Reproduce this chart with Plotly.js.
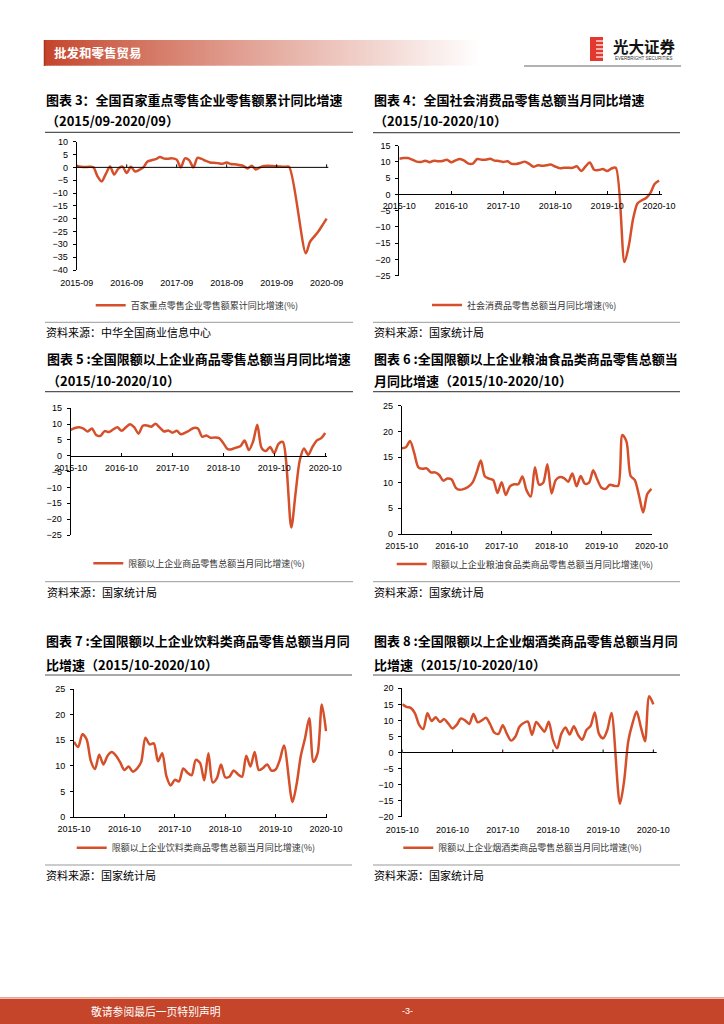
<!DOCTYPE html>
<html><head><meta charset="utf-8">
<script src="https://cdn.plot.ly/plotly-3.0.1.min.js"></script>
<style>html,body{margin:0;padding:0;background:#fff;}#page{width:724px;height:1024px;}</style>
</head><body><div id="page"></div>
<script>
// ---------- data ----------
const months9 = ['2015-09','2015-10','2015-11','2015-12','2016-01','2016-02','2016-03','2016-04','2016-05','2016-06','2016-07','2016-08',
 '2016-09','2016-10','2016-11','2016-12','2017-01','2017-02','2017-03','2017-04','2017-05','2017-06','2017-07','2017-08',
 '2017-09','2017-10','2017-11','2017-12','2018-01','2018-02','2018-03','2018-04','2018-05','2018-06','2018-07','2018-08',
 '2018-09','2018-10','2018-11','2018-12','2019-01','2019-02','2019-03','2019-04','2019-05','2019-06','2019-07','2019-08',
 '2019-09','2019-10','2019-11','2019-12','2020-01','2020-02','2020-03','2020-04','2020-05','2020-06','2020-07','2020-08','2020-09'];
const months10 = ['2015-10','2015-11','2015-12','2016-01','2016-02','2016-03','2016-04','2016-05','2016-06','2016-07','2016-08','2016-09',
 '2016-10','2016-11','2016-12','2017-01','2017-02','2017-03','2017-04','2017-05','2017-06','2017-07','2017-08','2017-09',
 '2017-10','2017-11','2017-12','2018-01','2018-02','2018-03','2018-04','2018-05','2018-06','2018-07','2018-08','2018-09',
 '2018-10','2018-11','2018-12','2019-01','2019-02','2019-03','2019-04','2019-05','2019-06','2019-07','2019-08','2019-09',
 '2019-10','2019-11','2019-12','2020-01','2020-02','2020-03','2020-04','2020-05','2020-06','2020-07','2020-08','2020-09','2020-10'];
const ticks9 = ['2015-09','2016-09','2017-09','2018-09','2019-09','2020-09'];
const ticks10 = ['2015-10','2016-10','2017-10','2018-10','2019-10','2020-10'];

const top100Cum = [0.5,0.2,0.1,0.2,0.0,-3.5,-5.5,-2.5,0.3,-2.8, -0.5,0.3,-2.2,0.2,-1.6,-1.0,0.0,2.3,2.8,3.2,
 4.0,3.4,3.4,3.5,3.0,0.0,3.5,2.8,0.0,3.7, 3.3,2.5,1.9,1.8,1.6,1.4,1.9,1.3,1.2,0.9, 0.6,-0.4,0.6,-0.8,0.0,0.5,0.6,0.5,0.4,0.3,
 0.2,0.2,null,null,null,-33.5,-29.0,-27.0,-25.0,-22.5, -20.0];
const socialRetail = [11.0,11.2,11.2,10.7,10.1,10.0,10.4,9.9,10.4,10.2, 10.3,10.7,9.9,10.5,10.9,10.4,9.5,9.5,10.9,10.7,
 10.7,11.0,10.4,10.3,10.0,10.2,9.4,9.4,9.7,10.1, 9.4,8.5,9.0,8.8,9.0,9.2,8.6,8.1,8.2,8.2, 8.2,8.7,7.2,8.6,9.8,7.6,7.5,7.8,7.2,8.0,
 8.2,null,-20.8,-15.8,-7.5,-2.8,-1.8,-1.1,0.5,3.3, 4.3];
const aboveLimitRetail = [8.2,8.8,9.0,8.6,7.7,8.6,6.6,6.3,7.8,7.5, 8.3,9.0,7.9,9.0,10.0,9.0,7.0,9.5,9.6,9.2,
 10.1,8.9,7.7,8.0,7.3,7.9,6.8,7.3,8.0,8.8, 8.6,6.0,6.4,5.7,5.8,5.6,4.0,2.1,2.1,2.6, 3.0,4.8,1.8,4.5,9.8,2.5,1.5,2.8,0.8,3.8,
 4.4,null,-22.6,-12.0,-1.5,2.3,0.3,2.8,4.8,5.5, 7.2];
const grainOilFood = [16.7,16.9,18.1,15.8,13.0,12.7,12.8,12.0,12.0,11.5, 10.4,10.8,10.6,9.0,8.6,8.8,9.2,10.0,12.0,14.3,
 11.2,10.8,10.5,8.0,10.1,7.6,9.3,9.7,9.7,11.2, 8.5,7.3,13.0,9.6,10.0,13.6,7.9,10.5,11.1,10.9, 10.2,11.8,9.3,11.3,9.8,10.0,12.4,10.6,9.0,8.8,
 9.6,9.4,9.4,19.3,18.0,11.3,10.5,7.5,4.2,7.8, 8.8];
const beverage = [14.7,13.7,16.2,15.2,11.0,9.4,12.2,10.3,12.0,12.7, 12.0,10.7,9.2,9.9,8.9,9.5,10.8,15.5,14.2,14.4,
 10.9,12.5,8.0,6.2,7.3,7.0,9.5,8.7,8.2,11.2, 10.6,7.2,12.5,6.8,7.6,10.3,7.8,7.9,9.1,8.4, 7.9,12.0,9.9,12.7,9.2,9.6,10.3,9.1,9.3,11.2,
 14.0,null,3.0,6.5,12.0,15.4,19.3,10.8,12.5,22.0, 16.8];
const tobaccoLiquor = [15.0,14.2,13.9,12.3,8.7,7.3,12.2,9.8,11.0,9.5, 10.4,9.0,7.5,8.6,10.6,10.0,8.9,12.0,9.4,10.0,
 10.8,8.8,6.2,5.8,8.5,5.8,3.7,4.9,8.0,9.2, 9.6,5.5,9.5,8.0,6.5,9.6,4.0,1.3,5.8,7.8, 5.6,8.2,5.5,4.0,7.0,8.3,12.5,5.8,4.4,7.0,
 12.3,null,-16.0,-9.0,3.5,9.0,12.8,8.0,3.5,17.5, 15.0];

const seriesNames = ['百家重点零售企业零售额累计同比增速(%)','社会消费品零售总额当月同比增速(%)','限额以上企业商品零售总额当月同比增速(%)',
 '限额以上企业粮油食品类商品零售总额当月同比增速(%)','限额以上企业饮料类商品零售总额当月同比增速(%)','限额以上企业烟酒类商品零售总额当月同比增速(%)'];
const titles = [
 ['图表 3：全国百家重点零售企业零售额累计同比增速','（2015/09-2020/09）'],
 ['图表 4：全国社会消费品零售总额当月同比增速','（2015/10-2020/10）'],
 ['图表 5 :全国限额以上企业商品零售总额当月同比增速','（2015/10-2020/10）'],
 ['图表 6 :全国限额以上企业粮油食品类商品零售总额当','月同比增速（2015/10-2020/10）'],
 ['图表 7 :全国限额以上企业饮料类商品零售总额当月同','比增速（2015/10-2020/10）'],
 ['图表 8 :全国限额以上企业烟酒类商品零售总额当月同','比增速（2015/10-2020/10）']];
const sources = ['资料来源：中华全国商业信息中心','资料来源：国家统计局','资料来源：国家统计局','资料来源：国家统计局','资料来源：国家统计局','资料来源：国家统计局'];

// ---------- layout config ----------
const W = 724, H = 1024;
const fx = p => p / W, fy = p => 1 - p / H;
const LINE = '#D5502A';
const CJK = 'Noto Sans CJK SC, Noto Sans, sans-serif';
const NUM = 'Arial, Liberation Sans, sans-serif';

const panels = [
 {cats:months9, ticks:ticks9, vals:top100Cum, px:[76.7,328.3], py:[141.7,270], yr:[-40,10], xr:[0,60.4], mode:'bottomZero', lx:130.7, ly:305.3, tx:45, ty:[99,120], sx:[45,353], sepTop:132.3, sepBot:322.3, srcY:332.3},
 {cats:months10, ticks:ticks10, vals:socialRetail, px:[399.3,661.7], py:[145.7,275.7], yr:[-25,15], xr:[0,60.6], mode:'zeroAxis', lx:467, ly:305, tx:373.3, ty:[99,120], sx:[373,680], sepTop:132.7, sepBot:322.3, srcY:332.3},
 {cats:months10, ticks:ticks10, vals:aboveLimitRetail, px:[70.7,327.3], py:[408.3,535], yr:[-25,15], xr:[0,60.5], mode:'zeroAxis', lx:128.3, ly:563.3, tx:46, ty:[358.3,380], sx:[45,353], sepTop:391.7, sepBot:581.7, srcY:592.3},
 {cats:months10, ticks:ticks10, vals:grainOilFood, px:[401.7,652.3], py:[405.7,534], yr:[0,25], xr:[0,60.2], mode:'bottom', lx:431.7, ly:564, tx:373.3, ty:[358.3,380], sx:[373,680], sepTop:391.7, sepBot:581.7, srcY:592.3},
 {cats:months10, ticks:ticks10, vals:beverage, px:[74,327.3], py:[689,817.3], yr:[0,25], xr:[0,60.3], mode:'bottom', lx:111.7, ly:847.7, tx:45, ty:[640,664], sx:[45,352], sepTop:675, sepBot:865, srcY:875},
 {cats:months10, ticks:ticks10, vals:tobaccoLiquor, px:[402.3,656.7], py:[688.3,816.7], yr:[-20,20], xr:[0,60.8], mode:'bottomZero', lx:438.3, ly:847.7, tx:373.3, ty:[640,664], sx:[373,680], sepTop:675, sepBot:865, srcY:875}
];

const traces = [];
const layout = {
  width: W, height: H, margin:{l:0,r:0,t:0,b:0}, paper_bgcolor:'#fff', plot_bgcolor:'rgba(0,0,0,0)',
  showlegend: true, shapes: [], annotations: [], hovermode:false
};
const hline = (x0,x1,y,color,w) => ({type:'line', xref:'paper', yref:'paper', x0:fx(x0), x1:fx(x1), y0:fy(y), y1:fy(y), line:{color:color, width:w}});
const note = (text,x,y,size,color,family,anchor) => ({text:text, xref:'paper', yref:'paper', x:fx(x), y:fy(y), xanchor:anchor||'left', yanchor:'middle', showarrow:false, font:{size:size, color:color, family:family}, borderpad:0});

panels.forEach((p, k) => {
  const s = k === 0 ? '' : String(k + 1);
  const xa = 'xaxis' + s, ya = 'yaxis' + s, lg = 'legend' + s;
  const yd = [fy(p.py[1]), fy(p.py[0])];
  const zeroPos = yd[0] + (0 - p.yr[0]) / (p.yr[1] - p.yr[0]) * (yd[1] - yd[0]);
  traces.push({type:'scatter', mode:'lines', x:p.cats, y:p.vals, xaxis:'x'+s, yaxis:'y'+s, name:seriesNames[k],
    legend:lg, showlegend:true, connectgaps:true, hoverinfo:'skip',
    line:{color:LINE, width:2.5, shape:'spline', smoothing:0.8}});
  const xcfg = {domain:[fx(p.px[0]), fx(p.px[1])], type:'category', categoryorder:'array', categoryarray:p.cats,
    range:p.xr, autorange:false, tickmode:'array', tickvals:p.ticks, ticktext:p.ticks,
    showgrid:false, zeroline:false, fixedrange:true, tickfont:{family:NUM, size:9, color:'#000'},
    linecolor:'#000', linewidth:1, tickcolor:'#000', ticklen:3, tickwidth:1};
  if (p.mode === 'zeroAxis') {
    Object.assign(xcfg, {anchor:'free', position:zeroPos, showline:true, ticks:'inside', ticklabelstandoff:3});
  } else if (p.mode === 'bottom') {
    Object.assign(xcfg, {anchor:'y'+s, showline:true, ticks:'inside', ticklabelstandoff:3});
  } else {
    Object.assign(xcfg, {anchor:'y'+s, showline:false, ticks:'', ticklabelstandoff:6});
    layout.shapes.push({type:'line', xref:'x'+s+' domain', yref:'y'+s, x0:0, x1:1, y0:0, y1:0, line:{color:'#000', width:1}});
    p.ticks.forEach(t => layout.shapes.push({type:'line', xref:'x'+s, yref:'y'+s, x0:t, x1:t, ysizemode:'pixel', yanchor:0, y0:0, y1:3, line:{color:'#000', width:1}}));
  }
  layout[xa] = xcfg;
  layout[ya] = {domain:yd, anchor:'x'+s, range:p.yr, autorange:false, tick0:0, dtick:5, showline:true, linecolor:'#000', linewidth:1,
    ticks:'outside', ticklen:3, tickcolor:'#000', showgrid:false, zeroline:false, fixedrange:true,
    tickfont:{family:NUM, size:9, color:'#000'}, ticklabelstandoff:3};
  layout[lg] = {x:fx(p.lx - 40), y:fy(p.ly), xanchor:'left', yanchor:'middle', bgcolor:'rgba(0,0,0,0)', borderwidth:0,
    font:{family:CJK, size:9, color:'#333'}, itemwidth:30};
  // titles, separators, source
  layout.annotations.push(note('<b>' + titles[k][0] + '</b>', p.tx, p.ty[0], 13, '#000', CJK));
  layout.annotations.push(note('<b>' + titles[k][1] + '</b>', p.tx, p.ty[1], 13, '#000', CJK));
  layout.shapes.push(hline(p.sx[0], p.sx[1], p.sepTop, '#555', 1.2));
  layout.shapes.push(hline(p.sx[0], p.sx[1], p.sepBot, '#999', 1));
  layout.annotations.push(note(sources[k], p.tx, p.srcY, 11, '#000', CJK));
});

// ---------- page header ----------
const g0 = [196, 68, 42], gx0 = 44, gx1 = 480, step = 3;
for (let x = gx0; x < gx1; x += step) {
  const t = (x - gx0) / (gx1 - gx0);
  const c = g0.map(v => Math.round(v + (255 - v) * Math.pow(t, 0.9)));
  layout.shapes.push({type:'rect', xref:'paper', yref:'paper', x0:fx(x), x1:fx(x + step + 0.5), y0:fy(65.7), y1:fy(40),
    fillcolor:'rgb(' + c.join(',') + ')', line:{width:0}, layer:'below'});
}
layout.shapes.push({type:'line', xref:'paper', yref:'paper', x0:fx(44.5), x1:fx(44.5), y0:fy(40), y1:fy(66), line:{color:'#A8361F', width:1.5}});
layout.annotations.push(note('<b>批发和零售贸易</b>', 53, 52.7, 12.5, '#fff', CJK));
// logo
layout.shapes.push({type:'rect', xref:'paper', yref:'paper', x0:fx(590), x1:fx(603), y0:fy(61), y1:fy(37), fillcolor:'#E2382E', line:{width:0}});
[41, 45, 49, 53, 57].forEach(yy => layout.shapes.push(hline(596, 603.5, yy, '#fff', 1.2)));
layout.annotations.push(note('<b>光大证券</b>', 612, 46.3, 15.5, '#111', CJK));
layout.annotations.push(note('EVERBRIGHT SECURITIES', 614, 58.3, 4.5, '#333', NUM));
layout.shapes.push(hline(524, 681, 66, '#666', 1.2));

// ---------- footer ----------
layout.shapes.push({type:'rect', xref:'paper', yref:'paper', x0:0, x1:1, y0:0, y1:fy(998.7), fillcolor:'#C4452A', line:{width:0}});
layout.shapes.push(hline(0, 724, 997.8, '#E9A593', 1.5));
layout.annotations.push(note('敬请参阅最后一页特别声明', 90, 1010.5, 10.8, '#fff', CJK));
layout.annotations.push(note('-3-', 407, 1010.5, 9, '#fff', NUM, 'center'));

Plotly.newPlot('page', traces, layout, {staticPlot:true, displayModeBar:false});
</script>
</body></html>
